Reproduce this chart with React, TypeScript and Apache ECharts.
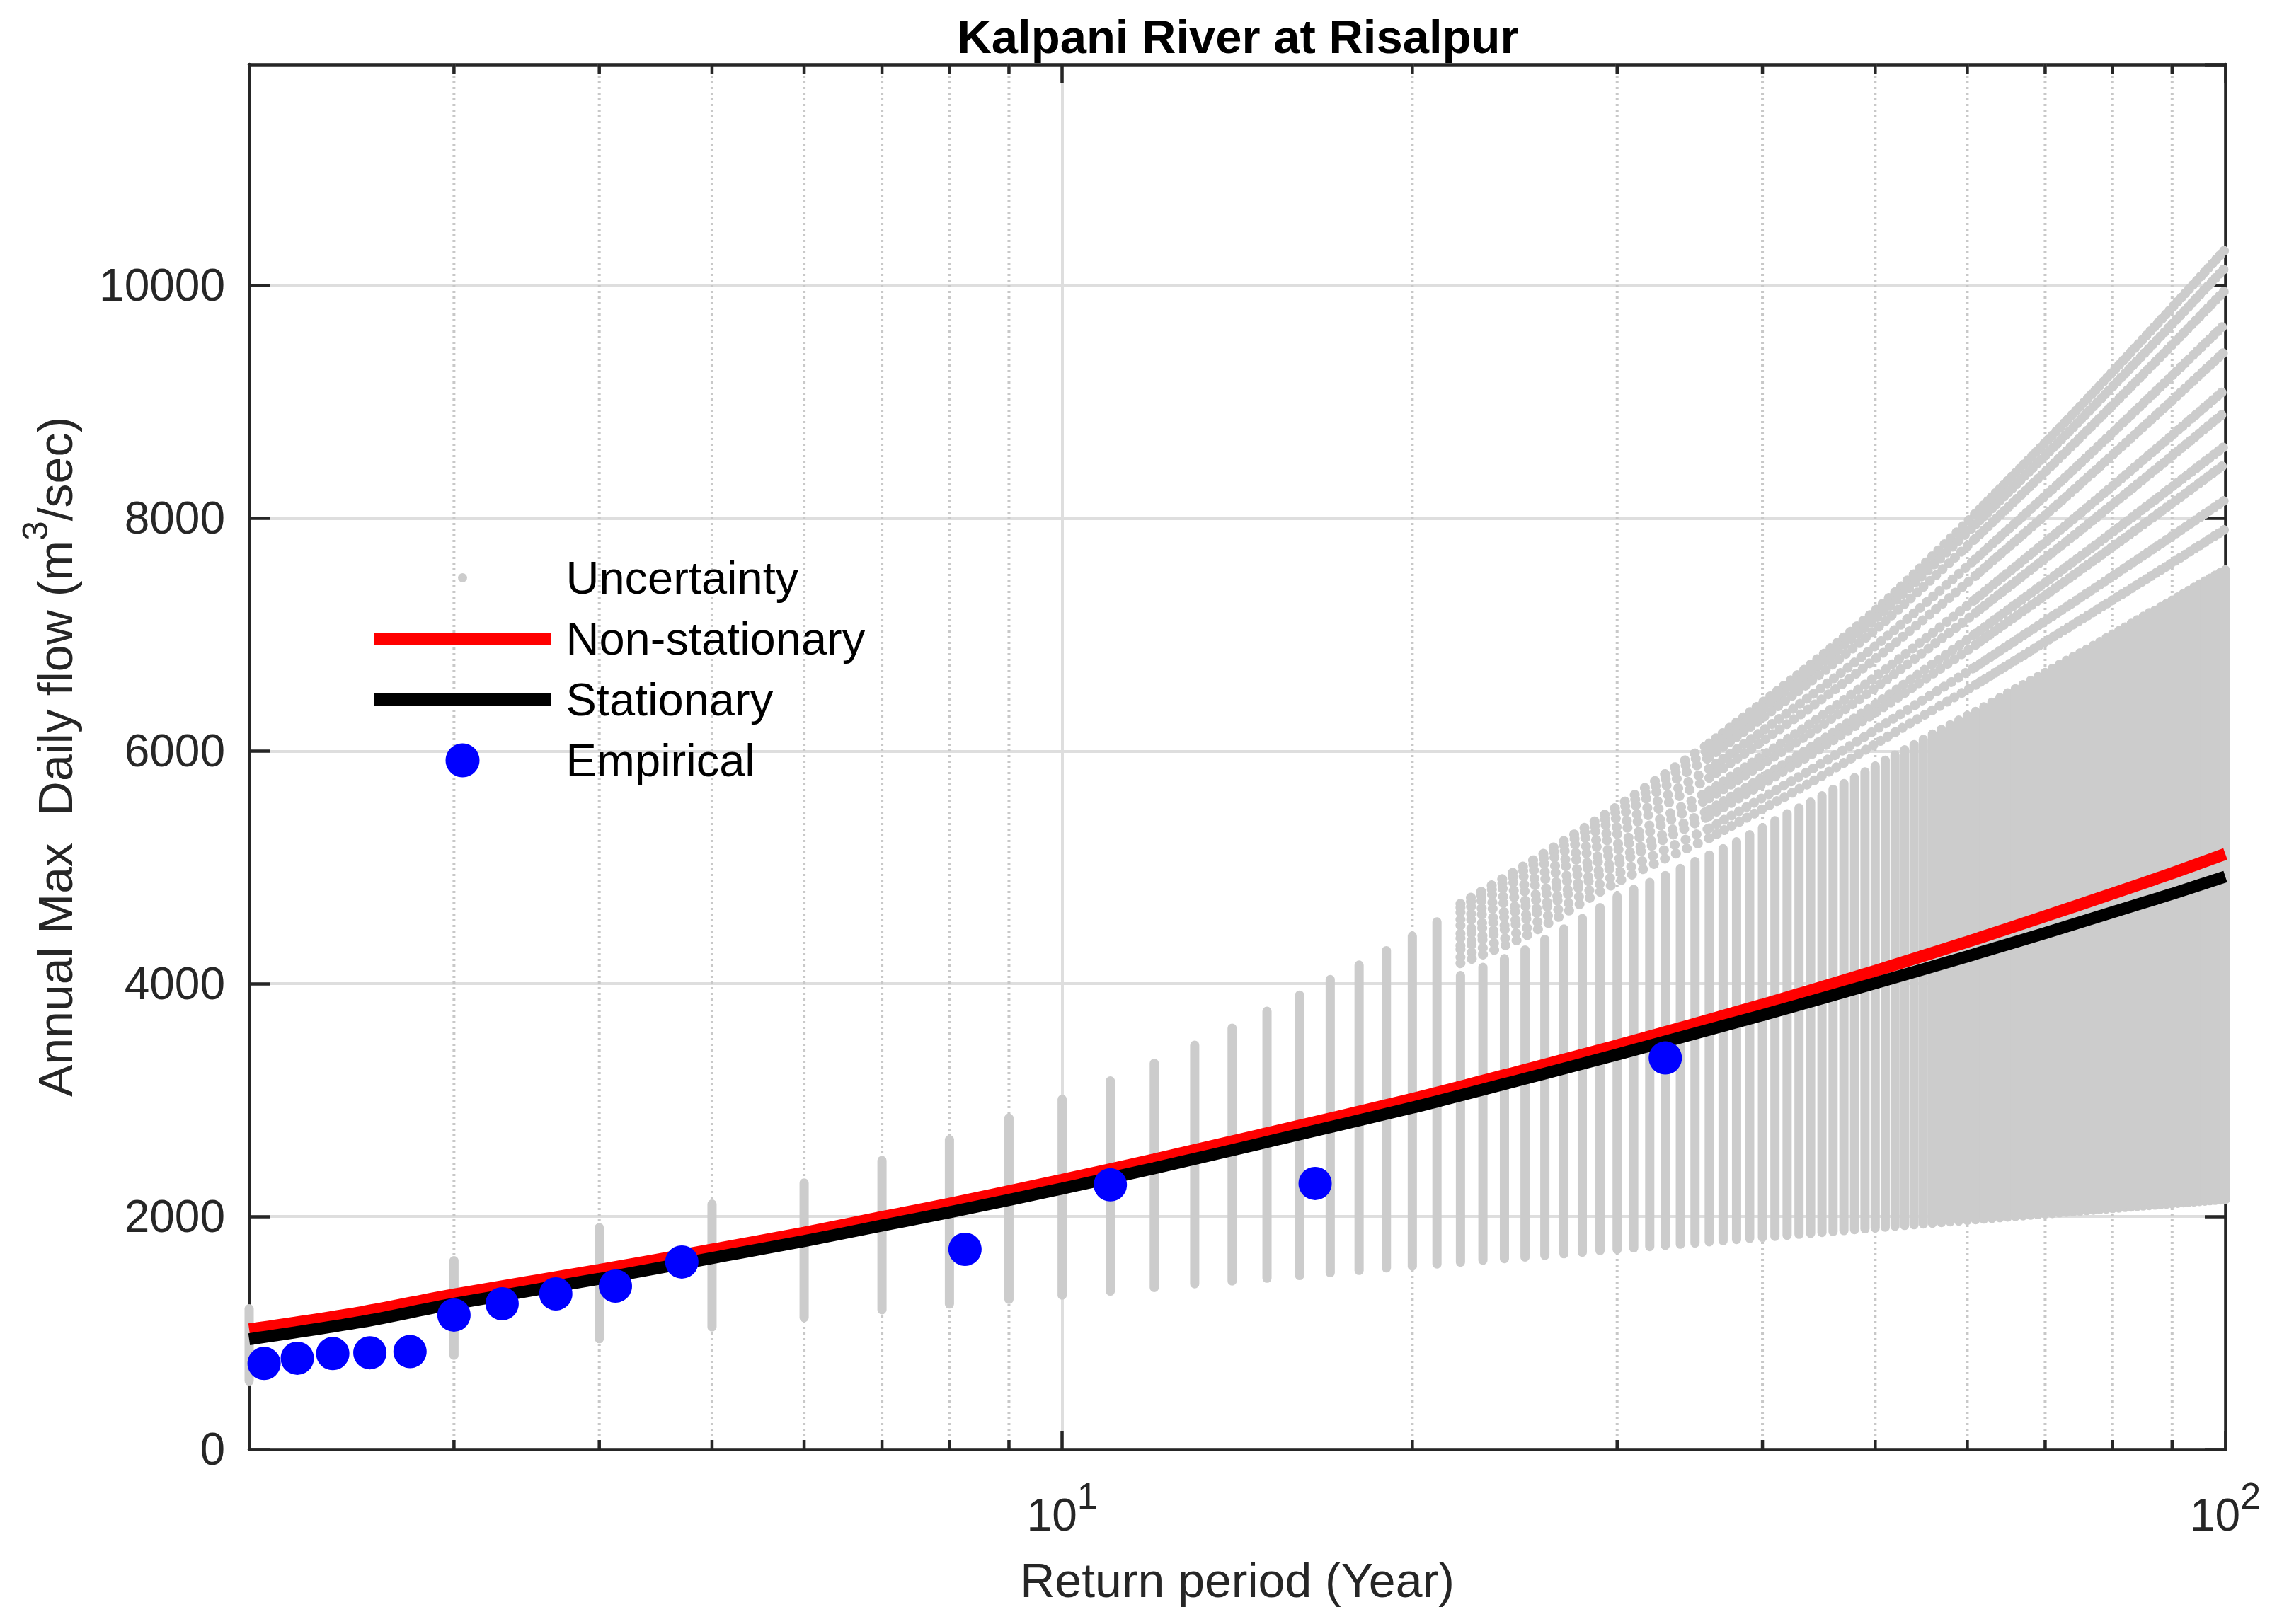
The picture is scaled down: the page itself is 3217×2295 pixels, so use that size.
import React, { useEffect, useRef } from 'react';
import * as echarts from 'echarts';

// ---------------- data ----------------
const curveT = [2, 2.5, 3, 4, 5, 6, 7, 8, 10, 12, 15, 20, 25, 30, 40, 50, 60, 70, 80, 90, 100];
const nonStationary = [1030, 1178, 1330, 1540, 1715, 1860, 1995, 2110, 2315, 2490, 2715, 3010, 3260, 3470, 3820, 4110, 4360, 4580, 4775, 4950, 5115];
const stationary = [945, 1095, 1250, 1464, 1643, 1788, 1922, 2036, 2240, 2415, 2640, 2935, 3184, 3392, 3730, 4005, 4235, 4435, 4615, 4772, 4921];

const empiricalT = [2.06, 2.2, 2.36, 2.54, 2.75, 3.0, 3.3, 3.67, 4.13, 4.71, 8.25, 11.0, 16.5, 33.0];
const empiricalFlow = [737, 782, 822, 829, 839, 1153, 1250, 1335, 1402, 1609, 1718, 2272, 2284, 3362];

// uncertainty columns: one per integer return period 2..100 (bottom / top of the dense column)
const bandT = [
  2, 3, 4, 5, 6, 7, 8, 9, 10, 11,
  12, 13, 14, 15, 16, 17, 18, 19, 20, 21,
  22, 23, 24, 25, 26, 27, 28, 29, 30, 31,
  32, 33, 34, 35, 36, 37, 38, 39, 40, 41,
  42, 43, 44, 45, 46, 47, 48, 49, 50, 51,
  52, 53, 54, 55, 56, 57, 58, 59, 60, 61,
  62, 63, 64, 65, 66, 67, 68, 69, 70, 71,
  72, 73, 74, 75, 76, 77, 78, 79, 80, 81,
  82, 83, 84, 85, 86, 87, 88, 89, 90, 91,
  92, 93, 94, 95, 96, 97, 98, 99, 100,
];
const bandLow = [
  547, 768, 910, 1011, 1092, 1159, 1208, 1248, 1285, 1319,
  1350, 1382, 1406, 1430, 1453, 1477, 1497, 1518, 1534, 1552,
  1568, 1584, 1598, 1612, 1626, 1640, 1653, 1666, 1678, 1690,
  1701, 1712, 1722, 1732, 1742, 1752, 1762, 1772, 1781, 1790,
  1799, 1807, 1815, 1823, 1831, 1839, 1847, 1854, 1862, 1869,
  1876, 1883, 1889, 1896, 1902, 1908, 1914, 1920, 1926, 1932,
  1938, 1944, 1949, 1955, 1960, 1966, 1971, 1976, 1981, 1986,
  1991, 1996, 2001, 2006, 2011, 2015, 2020, 2024, 2029, 2033,
  2038, 2042, 2046, 2050, 2054, 2058, 2062, 2066, 2070, 2074,
  2078, 2081, 2085, 2089, 2092, 2096, 2099, 2103, 2106,
];
const bandHigh = [
  1246, 1660, 1943, 2146, 2328, 2521, 2700, 2885, 3046, 3204,
  3356, 3512, 3658, 3804, 3942, 4075, 4200, 4324, 4449, 4571,
  4110, 4180, 4255, 4330, 4420, 4510, 4600, 4695, 4790, 4850,
  4910, 4970, 5030, 5090, 5146, 5200, 5260, 5320, 5380, 5440,
  5500, 5550, 5600, 5655, 5710, 5760, 5810, 5860, 5910, 5960,
  6005, 6050, 6095, 6140, 6185, 6225, 6265, 6305, 6345, 6380,
  6420, 6460, 6500, 6540, 6575, 6610, 6645, 6680, 6715, 6750,
  6785, 6820, 6852, 6884, 6916, 6948, 6980, 7012, 7044, 7075,
  7106, 7137, 7168, 7198, 7228, 7250, 7280, 7308, 7336, 7364,
  7392, 7420, 7447, 7474, 7500, 7525, 7550, 7574, 7596,
];

// individual upper sample curves of the uncertainty cloud
const sampleT = [22, 25, 30, 36, 44, 51, 61, 73, 87, 100];
const sampleCurves = [
  [4687, 5018, 5522, 6065, 6743, 7286, 8042, 8836, 9650, 10310],
  [4654, 4979, 5480, 6013, 6678, 7210, 7947, 8721, 9513, 10154],
  [4613, 4929, 5428, 5946, 6596, 7115, 7828, 8576, 9340, 9961],
  [4551, 4856, 5349, 5848, 6473, 6973, 7650, 8360, 9084, 9670],
  [4501, 4796, 5286, 5769, 6375, 6859, 7507, 8187, 8877, 9437],
  [4431, 4713, 5198, 5658, 6237, 6699, 7306, 7943, 8587, 9108],
  [4390, 4664, 5146, 5593, 6155, 6604, 7188, 7800, 8416, 8914],
  [4328, 4590, 5067, 5493, 6032, 6461, 7008, 7582, 8157, 8623],
  [4295, 4551, 5025, 5441, 5967, 6386, 6914, 7467, 8020, 8468],
  [4229, 4472, 4942, 5336, 5837, 6234, 6724, 7237, 7747, 8158],
  [4176, 4408, 4873, 5251, 5730, 6111, 6569, 7050, 7524, 7906],
];

const minorTicksX = [3, 4, 5, 6, 7, 8, 9, 20, 30, 40, 50, 60, 70, 80, 90];
const yTickInterval = 2000;

// ---------------- styling ----------------
const FONT = 'Liberation Sans, Arial, Helvetica, sans-serif';
const AXIS = '#262626';
const GRAY = '#cccccc';
// sample curves are drawn in pieces whose dot spacing shrinks as the columns get closer
const SAMPLE_PIECES = [
  { from: 0, to: 3, gap: 17 },
  { from: 3, to: 6, gap: 12 },
  { from: 6, to: 9, gap: 8 },
];

export default function App() {
  const ref = useRef<HTMLDivElement>(null);

  useEffect(() => {
    if (!ref.current) return;
    const chart = echarts.init(ref.current, null, { renderer: 'svg' });

    const samplePoints = sampleCurves.map((vals) => sampleT.map((t, i) => [t, vals[i]]));
    const sampleSeries: any[] = [];
    samplePoints.forEach((pts) => {
      SAMPLE_PIECES.forEach((piece) => {
        sampleSeries.push({
          name: 'Uncertainty',
          type: 'line',
          data: pts.slice(piece.from, piece.to + 1),
          symbol: 'none',
          smooth: 0.3,
          clip: false,
          silent: true,
          z: 3,
          itemStyle: { color: GRAY },
          lineStyle: { color: GRAY, width: 14, type: [0.1, piece.gap], cap: 'round' },
        });
      });
    });

    const option: any = {
      animation: false,
      backgroundColor: '#ffffff',
      title: {
        text: 'Kalpani River at Risalpur',
        left: 1749,
        textAlign: 'center',
        top: 11,
        padding: 0,
        textStyle: { fontFamily: FONT, fontSize: 67, fontWeight: 'bold', color: '#000000', lineHeight: 80 },
      },
      grid: { left: 352, right: 73, top: 91, bottom: 247, containLabel: false, outerBoundsMode: 'none' },
      legend: {
        orient: 'vertical',
        left: 520,
        top: 784,
        padding: 0,
        itemWidth: 250,
        itemHeight: 48,
        itemGap: 21,
        selectedMode: false,
        data: [
          { name: 'Uncertainty', icon: 'path://M0 0M250 48M118.5 24A6.5 6.5 0 1 1 131.5 24A6.5 6.5 0 1 1 118.5 24Z' },
          { name: 'Non-stationary', itemStyle: { opacity: 0, borderWidth: 0 } },
          { name: 'Stationary', itemStyle: { opacity: 0, borderWidth: 0 } },
          { name: 'Empirical', icon: 'circle' },
        ],
        lineStyle: { width: 'inherit', cap: 'butt' },
        textStyle: { fontFamily: FONT, fontSize: 65, color: '#000000', padding: [0, 0, 0, 16] },
      },
      xAxis: [
        {
          type: 'log',
          logBase: 10,
          min: 2,
          max: 100,
          position: 'bottom',
          name: 'Return period (Year)',
          nameLocation: 'middle',
          nameGap: 145,
          nameMoveOverlap: false,
          nameTextStyle: { fontFamily: FONT, fontSize: 68, color: AXIS, lineHeight: 80 },
          axisLine: { show: true, onZero: false, lineStyle: { color: AXIS, width: 4.5 } },
          axisTick: { show: true, inside: true, length: 26, lineStyle: { color: AXIS, width: 4.5 } },
          axisLabel: {
            margin: 40,
            showMinLabel: false,
            formatter: (v: number) => {
              const e = Math.log10(v);
              const r = Math.round(e);
              if (Math.abs(e - r) > 1e-6 || v < 5) return '';
              return '{b|10}{s|' + r + '}';
            },
            rich: {
              b: { fontFamily: FONT, fontSize: 64, color: AXIS, lineHeight: 85, verticalAlign: 'bottom' },
              s: { fontFamily: FONT, fontSize: 52, color: AXIS, lineHeight: 50, verticalAlign: 'top' },
            },
          },
          splitLine: { show: true, lineStyle: { color: '#dedede', width: 4 } },
        },
        {
          type: 'log',
          logBase: 10,
          min: 2,
          max: 100,
          position: 'top',
          axisLine: { show: true, onZero: false, lineStyle: { color: AXIS, width: 4.5 } },
          axisTick: { show: true, inside: true, length: 26, lineStyle: { color: AXIS, width: 4.5 } },
          axisLabel: { show: false },
          splitLine: { show: false },
        },
      ],
      yAxis: [
        {
          type: 'value',
          min: 0,
          max: 11900,
          interval: yTickInterval,
          position: 'left',
          name: '{n|Annual Max  Daily flow (m}{s|3}{n|/sec)}',
          nameLocation: 'middle',
          nameGap: 240,
          nameMoveOverlap: false,
          nameTextStyle: {
            rich: {
              n: { fontFamily: FONT, fontSize: 68, color: AXIS, lineHeight: 87, verticalAlign: 'bottom' },
              s: { fontFamily: FONT, fontSize: 50, color: AXIS, lineHeight: 50, verticalAlign: 'top' },
            },
          },
          axisLine: { show: true, lineStyle: { color: AXIS, width: 4.5 } },
          axisTick: { show: true, inside: true, length: 29, lineStyle: { color: AXIS, width: 4.5 } },
          axisLabel: {
            margin: 34,
            fontFamily: FONT,
            fontSize: 64,
            color: AXIS,
            showMaxLabel: false,
            formatter: (v: number) => String(Math.round(v)),
          },
          splitLine: { show: true, lineStyle: { color: '#dedede', width: 4 } },
        },
        {
          type: 'value',
          min: 0,
          max: 11900,
          interval: yTickInterval,
          position: 'right',
          axisLine: { show: true, lineStyle: { color: AXIS, width: 4.5 } },
          axisTick: { show: true, inside: true, length: 29, lineStyle: { color: AXIS, width: 4.5 } },
          axisLabel: { show: false },
          splitLine: { show: false },
        },
      ],
      series: [
        {
          type: 'custom',
          silent: true,
          z: 1,
          data: minorTicksX.map((t) => [t, 0]),
          encode: { x: 0, y: 1 },
          renderItem: (params: any, api: any) => {
            const cs = params.coordSys;
            const x = api.coord([api.value(0), 0])[0];
            const top = cs.y;
            const bottom = cs.y + cs.height;
            return {
              type: 'group',
              children: [
                { type: 'line', shape: { x1: x, y1: top, x2: x, y2: bottom }, style: { stroke: '#c8c8c8', lineWidth: 4, lineDash: [3, 5] } },
                { type: 'line', shape: { x1: x, y1: bottom, x2: x, y2: bottom - 13 }, style: { stroke: AXIS, lineWidth: 4.5 } },
                { type: 'line', shape: { x1: x, y1: top, x2: x, y2: top + 13 }, style: { stroke: AXIS, lineWidth: 4.5 } },
              ],
            };
          },
        },
        {
          name: 'Uncertainty',
          type: 'custom',
          silent: true,
          z: 3,
          itemStyle: { color: GRAY },
          data: bandT.map((t, i) => [t, bandLow[i], bandHigh[i]]),
          encode: { x: 0, y: [1, 2] },
          renderItem: (params: any, api: any) => {
            const t = api.value(0);
            const p1 = api.coord([t, api.value(1)]);
            const p2 = api.coord([t, api.value(2)]);
            return {
              type: 'rect',
              shape: { x: p1[0] - 6.5, y: p2[1], width: 13, height: p1[1] - p2[1], r: 6.5 },
              style: { fill: GRAY },
            };
          },
        },
        ...sampleSeries,
        {
          name: 'Non-stationary',
          type: 'line',
          data: curveT.map((t, i) => [t, nonStationary[i]]),
          symbol: 'none',
          smooth: 0.3,
          z: 4,
          itemStyle: { color: '#ff0000' },
          lineStyle: { color: '#ff0000', width: 17, cap: 'butt' },
        },
        {
          name: 'Stationary',
          type: 'line',
          data: curveT.map((t, i) => [t, stationary[i]]),
          symbol: 'none',
          smooth: 0.3,
          z: 5,
          itemStyle: { color: '#000000' },
          lineStyle: { color: '#000000', width: 17, cap: 'butt' },
        },
        {
          name: 'Empirical',
          type: 'scatter',
          data: empiricalT.map((t, i) => [t, empiricalFlow[i]]),
          symbol: 'circle',
          symbolSize: 47,
          z: 6,
          clip: false,
          itemStyle: { color: '#0000ff', opacity: 1 },
        },
      ],
    };

    chart.setOption(option);
    return () => chart.dispose();
  }, []);

  return (
    <div
      ref={ref}
      style={{ position: 'fixed', left: 0, top: 0, width: '3217px', height: '2295px', background: '#ffffff' }}
    />
  );
}
